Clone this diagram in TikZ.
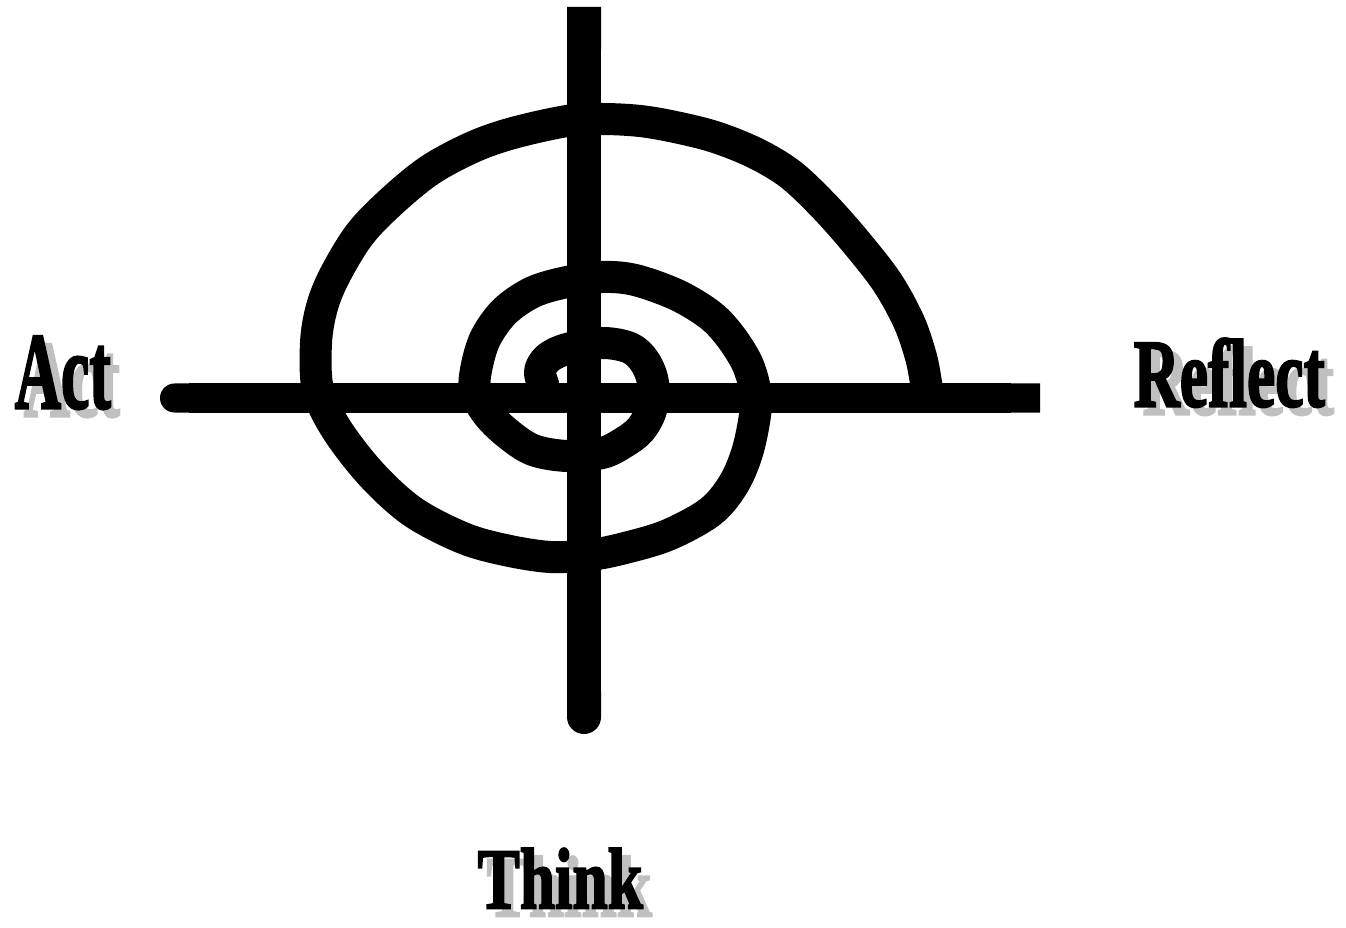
\documentclass[tikz,border=0pt]{standalone}
\usepackage{fontspec}
\setmainfont{Liberation Serif}
\newfontfamily\heavyfont{Liberation Serif Bold}[FakeBold=2.5]
\usepackage{graphicx}
\usetikzlibrary{calc,arrows.meta}
\definecolor{shade}{HTML}{C0C0C0}
\tikzset{
  bar/.style={line width=0.32cm,black},
  coil/.style={line width=0.32cm,black,line join=round,line cap=round},
  word/.style={inner sep=0pt,anchor=south west,font=\heavyfont}
}
% word with a grey drop shadow: name, baseline-left point, width, height, text
\newcommand{\shword}[5]{%
  \node[word,text=shade] (#1s) at ($(#2)+(9,8)$) {\resizebox{#3}{#4}{#5}};
  \node[word] (#1) at (#2) {\resizebox{#3}{#4}{#5}};}

\begin{document}
\begin{tikzpicture}[x=0.01cm,y=-0.01cm]
\useasboundingbox (0,0) rectangle (1346,928);
% cross hairs
\draw[bar,line width=0.34cm,{Butt Cap[]}-{Round Cap[]}] (584,7) -- (584,734);
\draw[bar,line width=0.29cm,{Round Cap[]}-{Butt Cap[]}] (160,398) -- (1040,398);
% spiral, from the inner hook outwards
\draw[coil] plot[smooth,tension=0.55] coordinates {
  (543,384) (540,371) (548,358) (567,349) (602,343) (630,348) (645,362)
  (653,383) (651,410) (640,430) (623,443) (602,453) (567,456) (533,450)
  (507,433) (487,413) (475,390) (477,365) (486,337) (505,311) (533,292)
  (567,282) (602,277) (635,280) (677,295) (710,315) (730,336) (747,363)
  (755,390) (755,415) (747,453) (733,485) (710,512) (668,535) (625,548)
  (590,555) (550,557) (505,550) (463,538) (413,512) (372,475) (337,430)
  (318,390) (316,343) (322,307) (335,275) (360,234) (392,201) (430,170)
  (473,147) (513,133) (567,121) (602,119) (640,121) (675,127) (715,137)
  (755,153) (790,174) (823,205) (855,241) (887,282) (909,322) (921,357)
  (926,383)};
\draw[line width=0.32cm] (926,382) -- (928,398);
% labels
\shword{act}{14,410}{0.96cm}{0.72cm}{Act}
\shword{reflect}{1133,408}{1.91cm}{0.68cm}{Reflect}
\shword{think}{477,909}{1.65cm}{0.60cm}{Think}
\end{tikzpicture}
\end{document}
